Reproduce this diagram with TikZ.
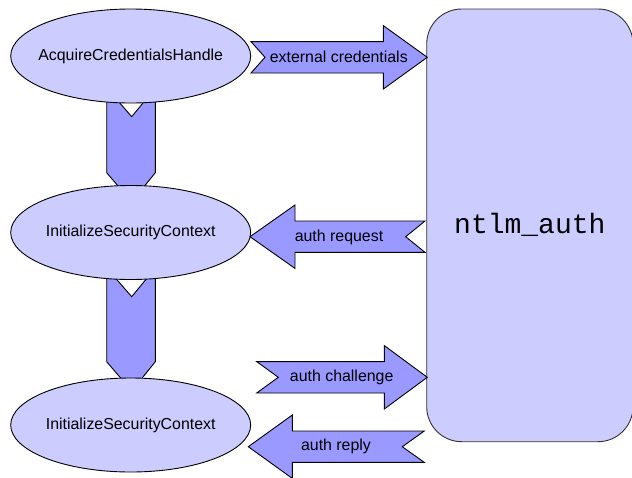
\documentclass[tikz,border=0pt]{standalone}
\usepackage{fontspec}
\setmainfont{Liberation Sans}
\newfontfamily\monofont{Liberation Mono}
\usetikzlibrary{shapes.geometric}
\definecolor{light}{HTML}{CCCCFF}
\definecolor{mid}{HTML}{9999FF}
\tikzset{
  call/.style={ellipse, draw=black, line width=0.9pt, fill=light, minimum width=240pt, minimum height=94pt, inner xsep=-12pt, inner ysep=0pt, font=\fontsize{15.9}{19}\selectfont},
  helper/.style={rectangle, rounded corners=35pt, draw=black!80, line width=0.9pt, fill=light, minimum width=206.3pt, minimum height=432.7pt, font=\monofont\fontsize{28}{32}\selectfont},
  fat/.style={draw=black, line width=0.9pt, fill=mid, line join=miter},
  msg/.style={inner sep=0pt, font=\fontsize{15.9}{19}\selectfont}
}
% #1 tail x, #2 tip x, #3 y, #4 notch depth, #5 head length
\newcommand\harrow[5]{%
  \draw[fat] (#1,#3-15.7) -- ({#2-#5*sign(#2-#1)},#3-15.7) -- ({#2-#5*sign(#2-#1)},#3-31.7)
    -- (#2,#3) -- ({#2-#5*sign(#2-#1)},#3+31.7) -- ({#2-#5*sign(#2-#1)},#3+15.7)
    -- (#1,#3+15.7) -- ({#1+#4*sign(#2-#1)},#3) -- cycle;}
% #1 tail y, #2 shoulder y, #3 tip y, #4 notch depth
\newcommand\varrow[4]{%
  \draw[fat] (106.7,#1) -- (131.7,#1+#4) -- (155.3,#1) -- (155.3,#2) -- (131.7,#3) -- (106.7,#2) -- cycle;}
\begin{document}
\begin{tikzpicture}[x=1pt,y=-1pt]
\useasboundingbox (0,0) rectangle (632,477);
% vertical block arrows (behind the calls)
\varrow{88}{172.7}{202}{28.7}
\varrow{268}{361.7}{391}{28.7}
% calls
\node[call] (ach) at (130.7,56) {AcquireCredentialsHandle};
\node[call] (isc1) at (130.7,232.5) {InitializeSecurityContext};
\node[call] (isc2) at (130.7,425) {InitializeSecurityContext};
% helper
\node[helper] (ntlm) at (529.85,225.35) {ntlm\_auth};
% horizontal block arrows
\harrow{251}{427.3}{57.3}{14}{44}
\node[msg] (m1) at (338.8,57.3) {external credentials};
\harrow{425}{250}{236.7}{19.3}{45}
\node[msg] (m2) at (339,237) {auth request};
\harrow{256.7}{427.3}{377.3}{21.6}{43}
\node[msg] (m3) at (341.7,377.3) {auth challenge};
\harrow{424.3}{248.3}{446.7}{22}{44}
\node[msg] (m4) at (336,446.7) {auth reply};
\end{tikzpicture}
\end{document}
